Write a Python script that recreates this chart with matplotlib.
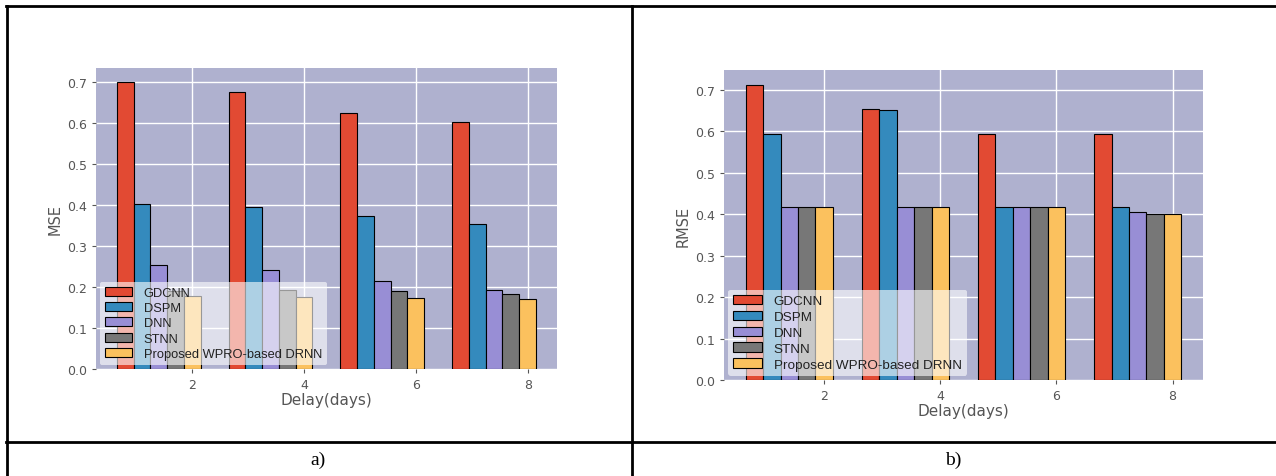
import numpy as np
import matplotlib
matplotlib.use('Agg')
from matplotlib import pyplot as plt
from matplotlib.lines import Line2D

plt.style.use('ggplot')

# Forecast error per delay, for each model
delays = [2, 4, 6, 8]
models = ['GDCNN', 'DSPM', 'DNN', 'STNN', 'Proposed WPRO-based DRNN']
colors = ['#E24A33', '#348ABD', '#988ED5', '#777777', '#FBC15E']

mse = {
    'GDCNN': [0.700, 0.676, 0.625, 0.604],
    'DSPM': [0.402, 0.395, 0.374, 0.353],
    'DNN': [0.253, 0.242, 0.214, 0.194],
    'STNN': [0.190, 0.192, 0.190, 0.183],
    'Proposed WPRO-based DRNN': [0.178, 0.176, 0.173, 0.171],
}
rmse = {
    'GDCNN': [0.712, 0.654, 0.593, 0.593],
    'DSPM': [0.593, 0.651, 0.418, 0.418],
    'DNN': [0.418, 0.418, 0.418, 0.404],
    'STNN': [0.418, 0.418, 0.418, 0.400],
    'Proposed WPRO-based DRNN': [0.418, 0.418, 0.418, 0.400],
}

fig = plt.figure(figsize=(12.76, 4.77), dpi=100)
fig.patch.set_facecolor('white')

ax1 = fig.add_axes([0.0752, 0.2243, 0.3613, 0.631])
ax2 = fig.add_axes([0.5674, 0.2013, 0.3754, 0.650])

width = 0.3
x = np.array(delays, dtype=float)


def draw(ax, data, ylabel, legsize):
    ax.set_facecolor('#AFB1CF')
    for i, m in enumerate(models):
        offset = (i - (len(models) - 1)) * width
        ax.bar(x + offset, data[m], width, color=colors[i], edgecolor='black',
               linewidth=0.8, label=m, zorder=3)
    ax.set_xticks(delays)
    ax.grid(True, color='white', linewidth=1.0, zorder=0)
    ax.set_axisbelow(True)
    ax.tick_params(labelsize=9, colors='#555555', length=3)
    ax.set_xlabel('Delay(days)', fontsize=11, color='#555555', labelpad=1)
    ax.set_ylabel(ylabel, fontsize=10.5, color='#555555', labelpad=3)
    for s in ax.spines.values():
        s.set_visible(False)
    leg = ax.legend(loc='lower left', prop={'family': 'Liberation Sans', 'size': legsize},
                    frameon=True, facecolor='white', framealpha=0.6,
                    edgecolor='none', borderaxespad=0.3, labelspacing=0.25,
                    handlelength=2.1, handletextpad=0.9)
    for t in leg.get_texts():
        t.set_color('#222222')


draw(ax1, mse, 'MSE', 9.3)
draw(ax2, rmse, 'RMSE', 9.7)

# table rules around the two panels
lw = 2.0
fig.add_artist(Line2D([6 / 1276, 1.0], [1 - 7 / 477] * 2, color='black', lw=lw))
fig.add_artist(Line2D([6 / 1276, 1.0], [1 - 443 / 477] * 2, color='black', lw=lw))
fig.add_artist(Line2D([7 / 1276] * 2, [0, 1 - 7 / 477], color='black', lw=lw))
fig.add_artist(Line2D([632 / 1276] * 2, [0, 1 - 7 / 477], color='black', lw=lw))

fig.text(318 / 1276, 1 - 460 / 477, 'a)', ha='center', va='center',
         family='Liberation Serif', fontsize=14, color='black')
fig.text(953 / 1276, 1 - 460 / 477, 'b)', ha='center', va='center',
         family='Liberation Serif', fontsize=14, color='black')

fig.savefig('out.png', dpi=100, facecolor='white')
